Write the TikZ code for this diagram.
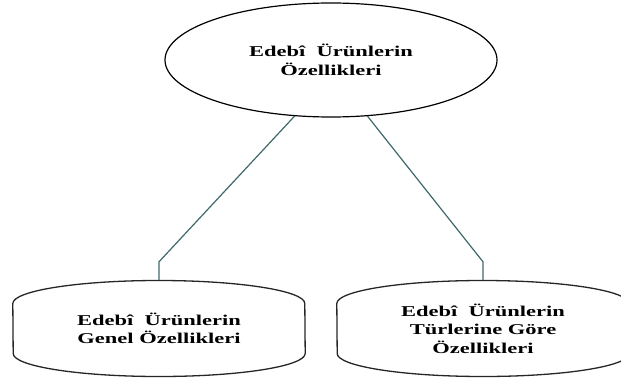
\documentclass[tikz,border=0pt]{standalone}
\usepackage{fontspec}
\setmainfont{Liberation Serif}[FakeStretch=1.5]
\usetikzlibrary{shapes.geometric}
\definecolor{slateteal}{RGB}{62,104,106}

\begin{document}
\begin{tikzpicture}[
        x=1pt, y=1pt,
        label text/.style={align=center, font=\bfseries\fontsize{15}{18.5}\selectfont},
        root/.style={label text, ellipse, draw, line width=1.2pt, minimum width=332pt, minimum height=114pt, inner sep=0pt},
        lobe line/.style={draw, line width=1.3pt, black!85},
        lobe/.style={label text, minimum width=292pt, minimum height=97pt, inner sep=0pt,
            append after command={\pgfextra{
                \draw[lobe line] ([yshift=25pt]\tikzlastnode.west)
                    arc[start angle=180, end angle=0, x radius=146pt, y radius=23pt]
                    -- ([yshift=-25pt]\tikzlastnode.east)
                    arc[start angle=0, end angle=-180, x radius=146pt, y radius=23pt] -- cycle;
            }}},
        link/.style={draw, line width=1.2pt, slateteal}
        ]
        \useasboundingbox (0,0) rectangle (621,381);

        % Nodes
        \node (ozellik) [root] at (331,321) {Edebî\ \ Ürünlerin\\Özellikleri};
        \node (genel) [lobe] at (159,52.5) {Edebî\ \ Ürünlerin\\Genel Özellikleri};
        \node (tur) [lobe] at (483,52.5) {Edebî\ \ Ürünlerin\\Türlerine Göre\\Özellikleri};

        % Connectors
        \draw [link] (ozellik.237) -- ([yshift=18pt]genel.north) -- (genel.north);
        \draw [link] (ozellik.303) -- ([yshift=18pt]tur.north) -- (tur.north);

    \end{tikzpicture}
\end{document}
